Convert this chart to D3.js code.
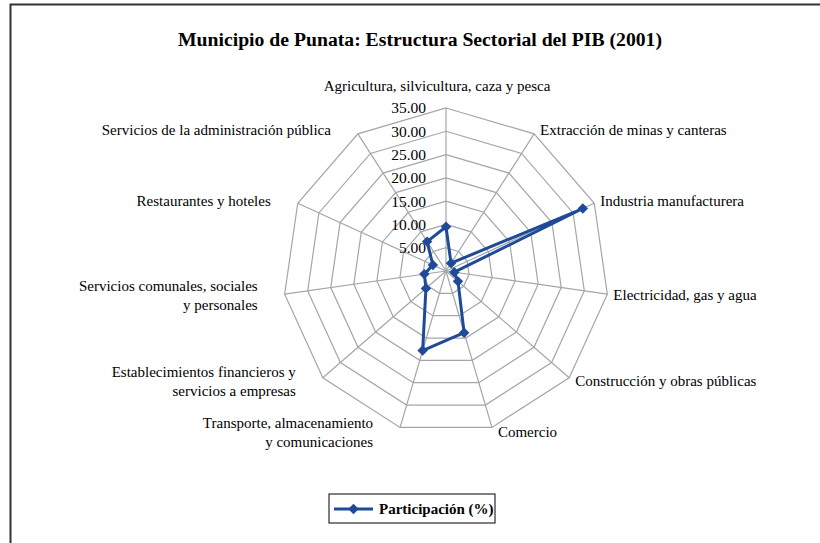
<!DOCTYPE html>
<html>
<head>
<meta charset="utf-8">
<script src="https://cdn.jsdelivr.net/npm/d3@7"></script>
<style>
  body { margin: 0; background: #fff; }
  svg { display: block; font-family: "Liberation Serif", "Times New Roman", serif; }
</style>
</head>
<body>
<div id="chart"></div>
<script>
// datos
const sectores = [
  ['Agricultura, silvicultura, caza y pesca'],
  ['Extracción de minas y canteras'],
  ['Industria manufacturera'],
  ['Electricidad, gas y agua'],
  ['Construcción y obras públicas'],
  ['Comercio'],
  ['Transporte, almacenamiento', 'y comunicaciones'],
  ['Establecimientos financieros y', 'servicios a empresas'],
  ['Servicios comunales, sociales', 'y personales'],
  ['Restaurantes y hoteles'],
  ['Servicios de la administración pública']
]
const participacion = [9.5, 2.0, 32.3, 1.8, 3.4, 13.8, 17.8, 5.7, 4.7, 3.1, 7.5]
const ticks = [0, 5, 10, 15, 20, 25, 30, 35]

const width = 820
const height = 543
const cx = 446
const cy = 271
const radius = 163

const svg = d3.select('#chart')
  .append('svg')
  .attr('width', width)
  .attr('height', height)

// marco
svg.append('rect')
  .attr('x', 10.5)
  .attr('y', 4.5)
  .attr('width', 900)
  .attr('height', 700)
  .attr('fill', 'none')
  .attr('stroke', '#333')
  .attr('stroke-width', 2)

svg.append('text')
  .attr('x', 420)
  .attr('y', 46)
  .attr('text-anchor', 'middle')
  .attr('font-size', 19.7)
  .attr('font-weight', 'bold')
  .text('Municipio de Punata: Estructura Sectorial del PIB (2001)')

const r = d3.scaleLinear().domain([0, 35]).range([0, radius])
const angle = d3.scaleLinear().domain([0, sectores.length]).range([0, 2 * Math.PI])

const pt = (i, v) => [cx + r(v) * Math.sin(angle(i)), cy - r(v) * Math.cos(angle(i))]

const grid = svg.append('g')
  .attr('fill', 'none')
  .attr('stroke', '#a3a6aa')
  .attr('stroke-width', 1.2)

// anillos
grid.selectAll('polygon')
  .data(ticks.filter(t => t > 0))
  .join('polygon')
  .attr('points', t => sectores.map((s, i) => pt(i, t).join(',')).join(' '))

// ejes radiales
grid.selectAll('line')
  .data(sectores)
  .join('line')
  .attr('x1', cx)
  .attr('y1', cy)
  .attr('x2', (s, i) => pt(i, 35)[0])
  .attr('y2', (s, i) => pt(i, 35)[1])

// etiquetas de escala
svg.append('g')
  .selectAll('text')
  .data(ticks)
  .join('text')
  .attr('x', cx - 20)
  .attr('y', t => cy - r(t))
  .attr('dy', '0.35em')
  .attr('text-anchor', 'end')
  .attr('font-size', 15.5)
  .text(t => t === 0 ? '-' : d3.format('.2f')(t))

// etiquetas de categorias
const labels = svg.append('g')
  .attr('font-size', 15)
  .selectAll('text')
  .data(sectores)
  .join('text')
  .attr('text-anchor', (s, i) => {
    const sn = Math.sin(angle(i))
    return sn > 0.1 ? 'start' : sn < -0.1 ? 'end' : 'middle'
  })
  .attr('transform', (s, i) => {
    const [x, y] = pt(i, 35)
    const sn = Math.sin(angle(i))
    const cs = Math.cos(angle(i))
    let dx = sn > 0.1 ? 6 : sn < -0.1 ? -27 : -9
    let dy = -cs * 5
    if (Math.abs(sn) < 0.1) dy = cs > 0 ? -22 : 12
    dy -= (s.length - 1) * 9.5
    return `translate(${x + dx},${y + dy})`
  })

labels.selectAll('tspan')
  .data(s => s)
  .join('tspan')
  .attr('x', 0)
  .attr('y', (d, j) => j * 19)
  .attr('dy', '0.35em')
  .text(d => d)

// serie
const color = '#1f4a98'
const line = d3.lineRadial()
  .angle((d, i) => angle(i))
  .radius(d => r(d))
  .curve(d3.curveLinearClosed)

const serie = svg.append('g')
  .attr('transform', `translate(${cx},${cy})`)

serie.append('path')
  .attr('d', line(participacion))
  .attr('fill', 'none')
  .attr('stroke', color)
  .attr('stroke-width', 3)
  .attr('stroke-linejoin', 'round')

const diamond = d3.symbol().type(d3.symbolDiamond2).size(70)

serie.selectAll('path.m')
  .data(participacion)
  .join('path')
  .attr('class', 'm')
  .attr('d', diamond)
  .attr('fill', color)
  .attr('transform', (d, i) => `translate(${r(d) * Math.sin(angle(i))},${-r(d) * Math.cos(angle(i))})`)

// leyenda
const legend = svg.append('g')
  .attr('transform', 'translate(329,494)')

legend.append('rect')
  .attr('width', 166)
  .attr('height', 29)
  .attr('fill', '#fff')
  .attr('stroke', '#000')
  .attr('stroke-width', 1)

legend.append('line')
  .attr('x1', 5)
  .attr('x2', 44)
  .attr('y1', 15)
  .attr('y2', 15)
  .attr('stroke', color)
  .attr('stroke-width', 3)

legend.append('path')
  .attr('d', diamond)
  .attr('fill', color)
  .attr('transform', 'translate(24.5,15)')

legend.append('text')
  .attr('x', 50)
  .attr('y', 15)
  .attr('dy', '0.35em')
  .attr('font-size', 15)
  .attr('font-weight', 'bold')
  .text('Participación (%)')
</script>
</body>
</html>
